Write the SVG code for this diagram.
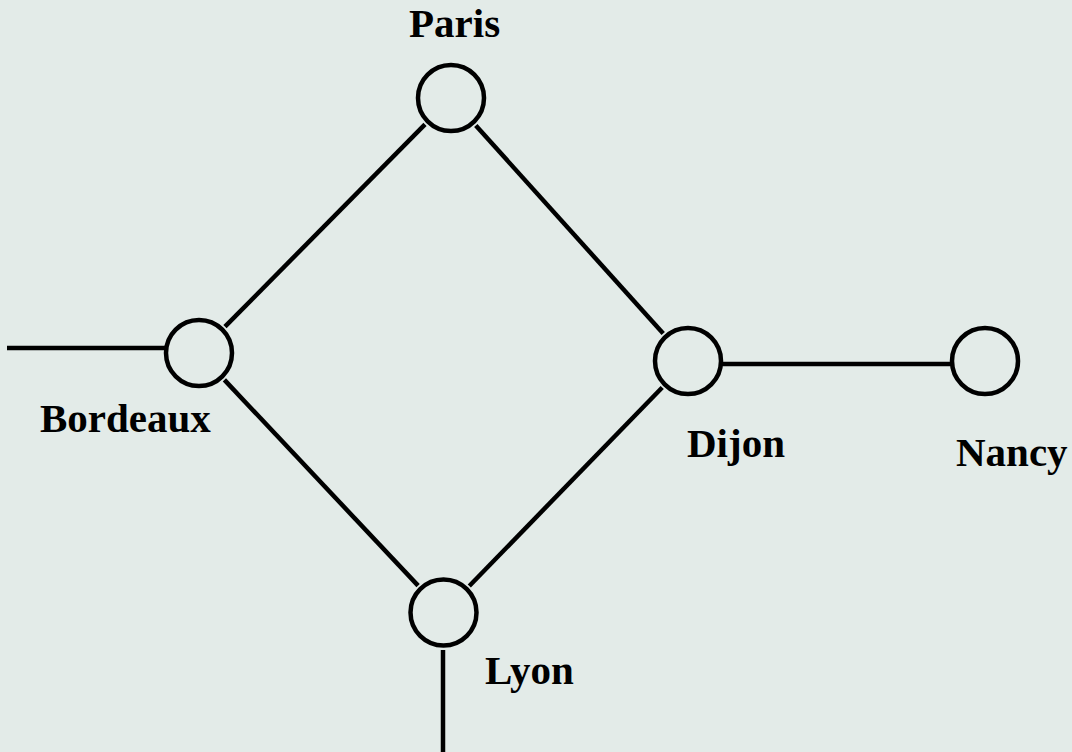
<svg xmlns="http://www.w3.org/2000/svg" width="1072" height="752" viewBox="0 0 1072 752">
<style>
.node{fill:none;stroke:#000;stroke-width:4.5}
.edge{stroke:#000;stroke-width:4.5;fill:none}
.lbl{font-family:"Liberation Serif","Times New Roman",serif;font-weight:bold;font-size:41px;fill:#000}
</style>
<rect width="1072" height="752" fill="#e3ebe8"/>
<g id="connectors">
<line class="edge" x1="425" y1="124.3" x2="225" y2="326.7"/>
<line class="edge" x1="475.8" y1="125.5" x2="663.2" y2="333.5"/>
<line class="edge" x1="224.4" y1="379.9" x2="418.1" y2="585.6"/>
<line class="edge" x1="662.2" y1="387.5" x2="469.3" y2="586"/>
<line class="edge" x1="7" y1="348" x2="166" y2="348"/>
<line class="edge" x1="721" y1="364" x2="951" y2="364"/>
<line class="edge" x1="443" y1="650" x2="443" y2="752"/>
</g>
<g id="paris"><circle class="node" cx="451" cy="98" r="33"/><text class="lbl" x="409" y="37">Paris</text></g>
<g id="bordeaux"><circle class="node" cx="199" cy="353" r="33"/><text class="lbl" x="40" y="432">Bordeaux</text></g>
<g id="dijon"><circle class="node" cx="688" cy="361" r="33"/><text class="lbl" x="687" y="457">Dijon</text></g>
<g id="nancy"><circle class="node" cx="985" cy="361" r="33"/><text class="lbl" x="956" y="466">Nancy</text></g>
<g id="lyon"><circle class="node" cx="443.5" cy="612.5" r="33"/><text class="lbl" x="485" y="684">Lyon</text></g>
</svg>
